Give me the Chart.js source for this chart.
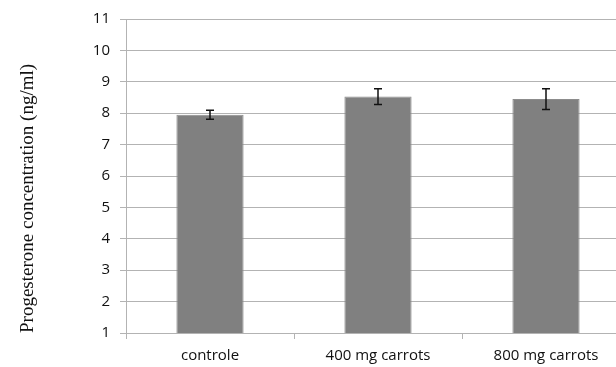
<!DOCTYPE html>
<html>
<head>
<meta charset="utf-8">
<script src="https://cdn.jsdelivr.net/npm/chart.js@4.4.0/dist/chart.umd.min.js"></script>
<style>
  html, body { margin: 0; padding: 0; overflow: hidden; background: #fff; }
  #wrap { width: 640px; height: 367px; }
</style>
</head>
<body>
<div id="wrap"><canvas id="progesterone_chart" width="640" height="367"></canvas></div>
<script>
  var groups = ['controle', '400 mg carrots', '800 mg carrots'];
  var means = [7.95, 8.53, 8.45];
  var errors = [0.14, 0.25, 0.33];
  var yTicks = [1, 2, 3, 4, 5, 6, 7, 8, 9, 10, 11];

  // draws the error bars from the y scale
  var errorBars = {
    id: 'errorBars',
    afterDatasetsDraw: function (chart) {
      var ctx = chart.ctx;
      var meta = chart.getDatasetMeta(0);
      var y = chart.scales.y;
      ctx.save();
      ctx.strokeStyle = '#111';
      ctx.lineWidth = 1.5;
      meta.data.forEach(function (bar, i) {
        var x = bar.x;
        var top = y.getPixelForValue(means[i] + errors[i]);
        var bottom = y.getPixelForValue(means[i] - errors[i]);
        ctx.beginPath();
        ctx.moveTo(x, top); ctx.lineTo(x, bottom);
        ctx.moveTo(x - 4, top); ctx.lineTo(x + 4, top);
        ctx.moveTo(x - 4, bottom); ctx.lineTo(x + 4, bottom);
        ctx.stroke();
      });
      ctx.restore();
    }
  };

  var ctx = document.getElementById('progesterone_chart').getContext('2d');
  var chartInstance = new Chart(ctx, {
    type: 'bar',
    data: {
      labels: groups,
      datasets: [{
        data: means,
        backgroundColor: '#808080',
        borderColor: '#8c8c8c',
        borderWidth: 1,
        barPercentage: 0.4,
        categoryPercentage: 1
      }]
    },
    options: {
      responsive: false,
      maintainAspectRatio: false,
      animation: false,
      layout: { padding: { left: 17, top: 18, right: 10, bottom: 0 } },
      plugins: { legend: { display: false }, tooltip: { enabled: false } },
      scales: {
        x: {
          afterFit: function (scale) { scale.height = 34; },
          grid: { drawOnChartArea: false, drawTicks: true, tickLength: 6, color: '#b3b3b3', offset: true },
          border: { color: '#b3b3b3' },
          ticks: { color: '#111', font: { family: 'Open Sans', size: 15 }, padding: 8 }
        },
        y: {
          min: 1,
          max: 11,
          afterFit: function (scale) { scale.width = 109; },
          afterBuildTicks: function (scale) {
            scale.ticks = yTicks.map(function (v) { return { value: v }; });
          },
          grid: { color: '#b3b3b3', tickLength: 6 },
          border: { color: '#b3b3b3' },
          ticks: { color: '#111', font: { family: 'Open Sans', size: 15 }, padding: 10 },
          title: {
            display: true,
            text: 'Progesterone concentration (ng/ml)',
            align: 'start',
            color: '#111',
            font: { family: 'Liberation Serif', size: 19 },
            padding: { top: 0, bottom: 0 }
          }
        }
      }
    },
    plugins: [errorBars]
  });
</script>
</body>
</html>
